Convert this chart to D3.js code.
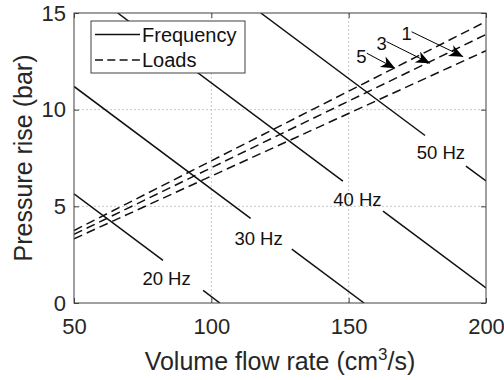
<!DOCTYPE html>
<html>
<head>
<meta charset="utf-8">
<script src="https://cdn.jsdelivr.net/npm/d3@7"></script>
<style>
  body { margin: 0; background: #fff; }
  svg { display: block; font-family: "Liberation Sans", Arial, Helvetica, sans-serif; }
</style>
</head>
<body>
<div id="chart"></div>
<script>
// axis setup
const xTicks = [50, 100, 150, 200];
const yTicks = [0, 5, 10, 15];

// frequency lines (solid), start/end points in data units, label gap and label position
const freqLabels = ["20 Hz", "30 Hz", "40 Hz", "50 Hz"];
const freqStart = [[50, 5.65], [50, 11.2], [65.9, 15], [118, 15]];
const freqEnd = [[103.1, 0], [155.6, 0], [200, 0.78], [200, 6.31]];
const freqGap = [[82.4, 97.0], [114.3, 129.3], [147.9, 162.5], [177.8, 192.7]];
const freqLabelPos = [[83.7, 1.29], [117.2, 3.36], [153.2, 5.38], [183.6, 7.81]];

// load lines (dashed)
const loadNames = ["5", "3", "1"];
const loadStart = [[50, 3.75], [50, 3.55], [50, 3.32]];
const loadEnd = [[200, 14.56], [200, 13.89], [200, 13.05]];

// arrow annotations: tail, tip, text position
const arrowTail = [[156.6, 12.92], [163.8, 13.52], [172.9, 14.03]];
const arrowTip = [[166.9, 12.14], [179.6, 12.40], [191.7, 12.74]];
const arrowTextPos = [[154.6, 12.74], [162.0, 13.43], [171.1, 13.97]];

const legendNames = ["Frequency", "Loads"];

const W = 504, H = 380;
const margin = {top: 13, right: 18, bottom: 77, left: 74};
const width = W - margin.left - margin.right;
const height = H - margin.top - margin.bottom;

const svg = d3.select("#chart").append("svg")
  .attr("width", W)
  .attr("height", H);

const x = d3.scaleLinear().domain([50, 200]).range([margin.left, margin.left + width]);
const y = d3.scaleLinear().domain([0, 15]).range([margin.top + height, margin.top]);

svg.append("defs").append("clipPath").attr("id", "plotclip")
  .append("rect")
  .attr("x", margin.left).attr("y", margin.top)
  .attr("width", width).attr("height", height);

svg.select("defs").append("marker")
  .attr("id", "head")
  .attr("markerUnits", "userSpaceOnUse")
  .attr("markerWidth", 16).attr("markerHeight", 14)
  .attr("refX", 14).attr("refY", 6)
  .attr("orient", "auto")
  .append("path")
  .attr("d", "M0,0 L14,6 L0,12 L4,6 Z")
  .attr("fill", "#000");

// grid
const grid = svg.append("g").attr("class", "grid");
grid.selectAll(".gx").data(xTicks.slice(1, -1)).enter().append("line")
  .attr("x1", d => x(d)).attr("x2", d => x(d))
  .attr("y1", margin.top).attr("y2", margin.top + height)
  .attr("stroke", "#c8c8c8").attr("stroke-dasharray", "2,2");
grid.selectAll(".gy").data(yTicks.slice(1, -1)).enter().append("line")
  .attr("x1", margin.left).attr("x2", margin.left + width)
  .attr("y1", d => y(d)).attr("y2", d => y(d))
  .attr("stroke", "#c8c8c8").attr("stroke-dasharray", "2,2");

const plot = svg.append("g").attr("clip-path", "url(#plotclip)");

// point on a straight line at given x
function along(i, xv) {
  const [x0, y0] = freqStart[i], [x1, y1] = freqEnd[i];
  return [xv, y0 + (y1 - y0) * (xv - x0) / (x1 - x0)];
}

// frequency lines split around labels
freqLabels.forEach((name, i) => {
  const segs = [
    [freqStart[i], along(i, freqGap[i][0])],
    [along(i, freqGap[i][1]), freqEnd[i]]
  ];
  segs.forEach(s => {
    plot.append("line")
      .attr("x1", x(s[0][0])).attr("y1", y(s[0][1]))
      .attr("x2", x(s[1][0])).attr("y2", y(s[1][1]))
      .attr("stroke", "#111").attr("stroke-width", 1.5);
  });
  svg.append("text")
    .attr("x", x(freqLabelPos[i][0]))
    .attr("y", y(freqLabelPos[i][1]))
    .attr("dy", "0.36em")
    .attr("text-anchor", "middle")
    .attr("font-size", 18.5)
    .attr("fill", "#111")
    .text(name);
});

// load lines
loadNames.forEach((name, i) => {
  plot.append("line")
    .attr("x1", x(loadStart[i][0])).attr("y1", y(loadStart[i][1]))
    .attr("x2", x(loadEnd[i][0])).attr("y2", y(loadEnd[i][1]))
    .attr("stroke", "#111").attr("stroke-width", 1.5)
    .attr("stroke-dasharray", "9,5");
});

// arrows
loadNames.forEach((name, i) => {
  svg.append("line")
    .attr("x1", x(arrowTail[i][0])).attr("y1", y(arrowTail[i][1]))
    .attr("x2", x(arrowTip[i][0])).attr("y2", y(arrowTip[i][1]))
    .attr("stroke", "#000").attr("stroke-width", 1)
    .attr("marker-end", "url(#head)");
  svg.append("text")
    .attr("x", x(arrowTextPos[i][0]))
    .attr("y", y(arrowTextPos[i][1]))
    .attr("dy", "0.36em")
    .attr("text-anchor", "middle")
    .attr("font-size", 18.5)
    .attr("fill", "#111")
    .text(name);
});

// axes
const axisColor = "#404040";
const xAxis = svg.append("g")
  .attr("transform", `translate(0,${margin.top + height})`)
  .call(d3.axisBottom(x).tickValues(xTicks).tickSizeInner(-5).tickSizeOuter(0).tickPadding(15));
const yAxis = svg.append("g")
  .attr("transform", `translate(${margin.left},0)`)
  .call(d3.axisLeft(y).tickValues(yTicks).tickSizeInner(-5).tickSizeOuter(0).tickPadding(8));
const xTop = svg.append("g")
  .attr("transform", `translate(0,${margin.top})`)
  .call(d3.axisTop(x).tickValues(xTicks).tickSizeInner(-5).tickSizeOuter(0).tickFormat(""));
const yRight = svg.append("g")
  .attr("transform", `translate(${margin.left + width},0)`)
  .call(d3.axisRight(y).tickValues(yTicks).tickSizeInner(-5).tickSizeOuter(0).tickFormat(""));

[xAxis, yAxis, xTop, yRight].forEach(a => {
  a.select(".domain").remove();
  a.selectAll(".tick line").attr("stroke", axisColor);
  a.selectAll(".tick text")
    .attr("font-family", "Liberation Sans, Arial, sans-serif")
    .attr("font-size", 22).attr("fill", "#262626");
});

svg.append("rect")
  .attr("x", margin.left).attr("y", margin.top)
  .attr("width", width).attr("height", height)
  .attr("fill", "none").attr("stroke", axisColor).attr("stroke-width", 1);

// axis labels
const xl = svg.append("text")
  .attr("x", margin.left + width / 2)
  .attr("y", 370)
  .attr("text-anchor", "middle")
  .attr("font-size", 25)
  .attr("fill", "#262626");
xl.append("tspan").text("Volume flow rate (cm");
xl.append("tspan").attr("dy", -10).attr("font-size", 17).text("3");
xl.append("tspan").attr("dy", 10).text("/s)");

svg.append("text")
  .attr("transform", `translate(32,${margin.top + height / 2}) rotate(-90)`)
  .attr("text-anchor", "middle")
  .attr("font-size", 25)
  .attr("fill", "#262626")
  .text("Pressure rise (bar)");

// legend
const lg = svg.append("g").attr("transform", "translate(91,21)");
lg.append("rect")
  .attr("width", 154).attr("height", 52)
  .attr("fill", "#fff").attr("stroke", axisColor).attr("stroke-width", 1);
legendNames.forEach((name, i) => {
  const ly = 13.5 + i * 25.5;
  lg.append("line")
    .attr("x1", 4).attr("x2", 49).attr("y1", ly).attr("y2", ly)
    .attr("stroke", "#111").attr("stroke-width", 1.5)
    .attr("stroke-dasharray", i === 1 ? "8,4.3" : null);
  lg.append("text")
    .attr("x", 51).attr("y", ly).attr("dy", "0.36em")
    .attr("font-size", 20).attr("fill", "#111")
    .text(name);
});
</script>
</body>
</html>
